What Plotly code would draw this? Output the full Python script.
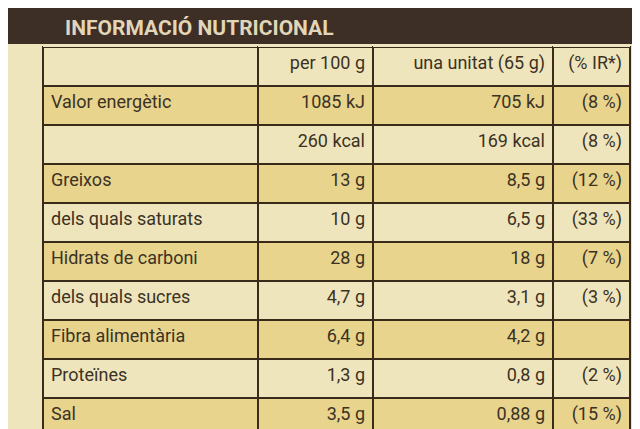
import plotly.graph_objects as go

title = "INFORMACIÓ NUTRICIONAL"
headers = ["", "per 100 g", "una unitat (65 g)", "(% IR*)"]
nutrients = ["Valor energètic", "", "Greixos", "dels quals saturats", "Hidrats de carboni",
             "dels quals sucres", "Fibra alimentària", "Proteïnes", "Sal"]
per100 = ["1085 kJ", "260 kcal", "13 g", "10 g", "28 g", "4,7 g", "6,4 g", "1,3 g", "3,5 g"]
unit = ["705 kJ", "169 kcal", "8,5 g", "6,5 g", "18 g", "3,1 g", "4,2 g", "0,8 g", "0,88 g"]
ir = ["(8 %)", "(8 %)", "(12 %)", "(33 %)", "(7 %)", "(3 %)", "", "(2 %)", "(15 %)"]

cream = "#efe5bd"
yellow = "#e8d48c"
fills = [cream] + [yellow if i % 2 == 0 else cream for i in range(len(nutrients))]

nb = lambda lst: [s.replace(" ", "\u00a0") for s in lst]
col0 = nb([headers[0]] + nutrients)
col1 = nb([headers[1]] + per100)
col2 = nb([headers[2]] + unit)
col3 = nb([headers[3]] + ir)

font_fam = "Roboto, Liberation Sans, Arial"
txt = "#3b3224"

fig = go.Figure(go.Table(
    domain=dict(x=[35/640, 622/640], y=[0, 1 - 38/429]),
    columnwidth=[215, 115, 180, 77],
    header=dict(values=[""]*4, height=1, line=dict(width=0), fill=dict(color=cream)),
    cells=dict(
        values=[col0, col1, col2, col3],
        height=39,
        align=["left", "right", "right", "right"],
        fill=dict(color=[fills]*4),
        line=dict(color="#3a2a1a", width=2),
        font=dict(family=font_fam, size=18, color=txt),
    ),
))

fig.update_layout(
    width=640, height=429, margin=dict(l=0, r=0, t=0, b=0),
    paper_bgcolor=cream, plot_bgcolor=cream,
    shapes=[dict(type="rect", xref="paper", yref="paper", x0=0, x1=1,
                 y0=1 - 36/429, y1=1, fillcolor="#3e2f26", line=dict(width=0), layer="below")],
    annotations=[dict(text="<b>" + title + "</b>", xref="paper", yref="paper",
                      x=55/640, y=1 - 20/429, xanchor="left", yanchor="middle",
                      showarrow=False, font=dict(family="Roboto, Liberation Sans, Arial", size=21, color="#e2d6b8"))],
)
fig.write_html("out.html")
